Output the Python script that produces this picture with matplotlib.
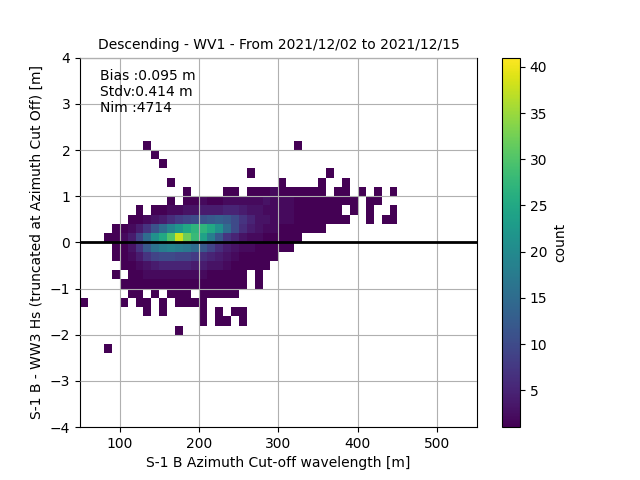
import numpy as np
import matplotlib
matplotlib.use("Agg")
from matplotlib import pyplot as plt

# binned counts: y lower edge -> (first x column, counts); x columns are 10 m wide from 50 m
x_edges = np.arange(50, 470, 10)
y_edges = np.round(np.arange(-2.6, 2.21, 0.2), 2)
rows = {
    2.0: [(8, [1]), (27, [1])],
    1.8: [(9, [1])],
    1.6: [(10, [1])],
    1.4: [(21, [1]), (31, [1])],
    1.2: [(11, [1]), (25, [1, 0, 0, 0, 0, 1, 0, 0, 1])],
    1.0: [(12, [0, 1, 0, 0, 0, 0, 1, 1, 0, 1, 1, 1, 2, 1, 1, 1, 1, 1, 1, 0, 1, 1, 0, 1, 0, 1, 0, 1])],
    0.8: [(11, [1, 0, 1, 1, 2, 1, 1, 2, 2, 2, 2, 2, 3, 2, 2, 2, 1, 1, 1, 1, 1, 1, 1, 1, 0, 1, 1])],
    0.6: [(7, [1, 0, 1, 1, 2, 2, 3, 3, 4, 4, 4, 5, 5, 4, 3, 3, 2, 2, 2, 2, 1, 1, 1, 1, 1, 1, 0, 1, 0, 1, 0, 0, 1])],
    0.4: [(6, [1, 1, 2, 3, 4, 6, 8, 9, 10, 11, 12, 13, 12, 10, 7, 5, 3, 3, 2, 2, 2, 1, 1, 1, 1, 1, 1, 1, 0, 0, 1, 0, 1, 1])],
    0.2: [(4, [1, 1, 2, 4, 7, 11, 15, 19, 22, 25, 27, 27, 25, 21, 15, 10, 6, 4, 3, 2, 2, 1, 1, 1, 1, 1, 1])],
    0.0: [(3, [1, 1, 2, 4, 9, 15, 21, 25, 30, 38, 32, 28, 24, 18, 12, 7, 5, 3, 2, 2, 1, 1, 1, 1, 1])],
    -0.2: [(4, [1, 1, 3, 7, 12, 16, 18, 19, 18, 17, 15, 12, 9, 6, 4, 3, 2, 2, 1, 1, 1, 1, 1])],
    -0.4: [(4, [1, 1, 2, 4, 7, 9, 10, 10, 9, 9, 8, 6, 5, 4, 3, 2, 1, 1, 1, 1, 1])],
    -0.6: [(5, [1, 1, 2, 3, 4, 5, 5, 5, 5, 4, 4, 3, 3, 2, 1, 1, 1, 1, 1])],
    -0.8: [(4, [1, 0, 1, 1, 2, 2, 2, 2, 2, 2, 2, 2, 1, 1, 1, 1, 1, 0, 1])],
    -1.0: [(5, [1, 1, 1, 1, 1, 1, 1, 1, 1, 1, 1, 1, 1, 1, 1, 1, 0, 1])],
    -1.2: [(5, [0, 1, 1, 0, 1, 0, 1, 1, 1, 0, 1, 1, 1, 1, 1])],
    -1.4: [(0, [1, 0, 0, 0, 0, 1, 0, 1, 1, 0, 1, 0, 1, 1, 1, 1])],
    -1.6: [(8, [1, 0, 1, 0, 0, 0, 0, 1, 0, 1, 0, 1, 1])],
    -1.8: [(15, [1, 0, 1, 1, 0, 1])],
    -2.0: [(12, [1])],
    -2.4: [(3, [1])],
}

counts = np.zeros((len(y_edges) - 1, len(x_edges) - 1))
for ylo, segs in rows.items():
    r = int(round((ylo - y_edges[0]) / 0.2))
    for start, vals in segs:
        counts[r, start:start + len(vals)] = vals
counts = np.ma.masked_equal(counts, 0)

fig, ax = plt.subplots(figsize=(6.4, 4.8))
mesh = ax.pcolormesh(x_edges, y_edges, counts, cmap="viridis", vmin=1, vmax=41)
cb = fig.colorbar(mesh, ax=ax)
cb.set_label("count")
ax.axhline(0, color="k", lw=2, zorder=4)
ax.set_xlim(50, 550)
ax.set_ylim(-4, 4)
ax.grid()
ax.set_axisbelow(False)
ax.set_xlabel("S-1 B Azimuth Cut-off wavelength [m]")
ax.set_ylabel("S-1 B - WW3 Hs (truncated at Azimuth Cut Off) [m]")
ax.set_title("Descending - WV1 - From 2021/12/02 to 2021/12/15", fontsize=10)
ax.text(0.05, 0.97, "Bias :0.095 m\nStdv:0.414 m\nNim :4714", transform=ax.transAxes,
        va="top", ha="left")
fig.savefig("out.png", dpi=100)
